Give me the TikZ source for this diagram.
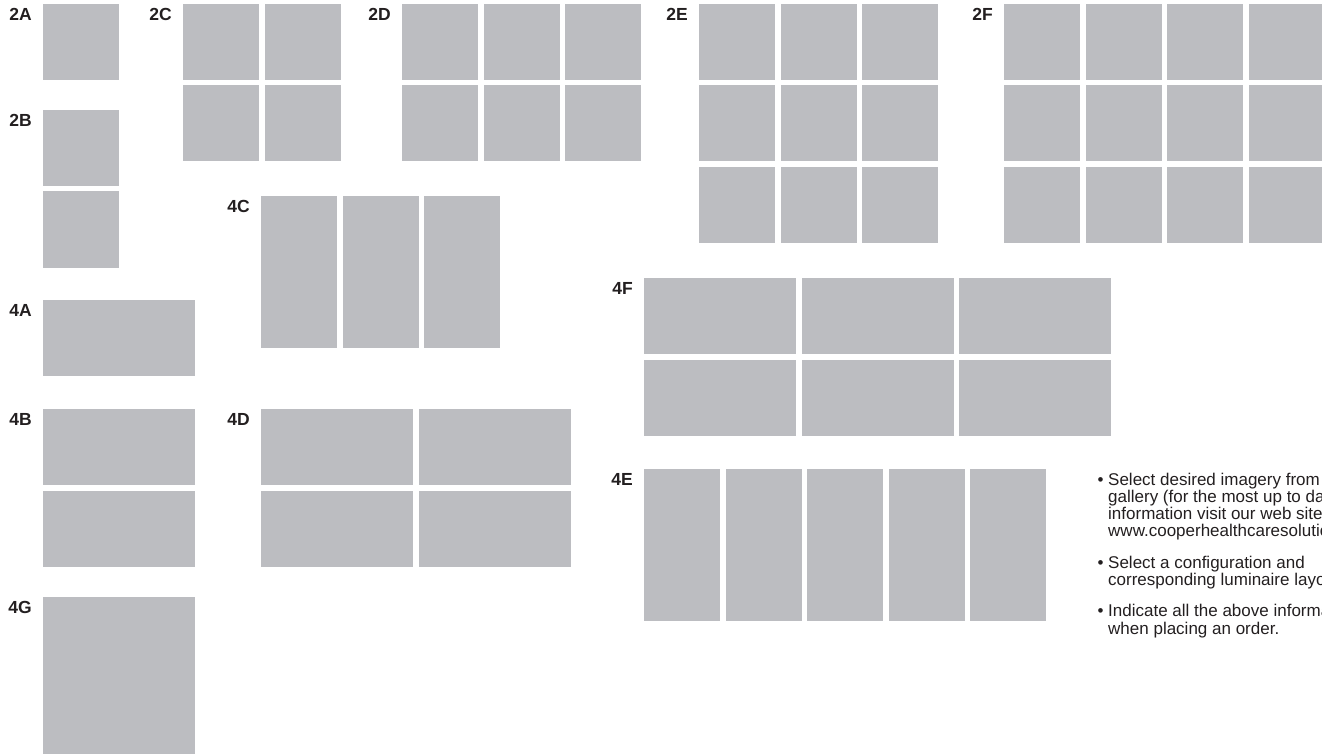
\documentclass[tikz,border=0pt]{standalone}
\usepackage{fontspec}
\setmainfont{Liberation Sans}
\usetikzlibrary{positioning}
\definecolor{panelgray}{HTML}{BCBDC1}
\definecolor{inkgray}{HTML}{231F20}

\begin{document}
\begin{tikzpicture}[x=1pt,y=-1pt,
    panel/.style={fill=panelgray,inner sep=0pt,outer sep=0pt,anchor=north west,
                  minimum width=76pt,minimum height=76pt},
    wide/.style={panel,minimum width=152pt},
    tall/.style={panel,minimum height=152pt},
    tag/.style={font=\bfseries\fontsize{17.5}{17.5}\selectfont,text=inkgray,
                inner sep=0pt,anchor=north east},
    note/.style={font=\fontsize{17}{17.3}\selectfont,text=inkgray,align=left,
                 inner sep=0pt,anchor=north west}
  ]
    \useasboundingbox (0,0) rectangle (1322,754);

    % square panels
    \node[panel] (p2A) at (43,4) {};
    \foreach \r in {1,2}
      \node[panel] (p2B-\r-1) at (43,{110+(\r-1)*81.5}) {};
    \foreach \r in {1,2} \foreach \c in {1,2}
      \node[panel] (p2C-\r-\c) at ({183+(\c-1)*81.5},{4+(\r-1)*81.5}) {};
    \foreach \r in {1,2} \foreach \c in {1,2,3}
      \node[panel] (p2D-\r-\c) at ({402+(\c-1)*81.5},{4+(\r-1)*81.5}) {};
    \foreach \r in {1,2,3} \foreach \c in {1,2,3}
      \node[panel] (p2E-\r-\c) at ({699+(\c-1)*81.5},{4+(\r-1)*81.5}) {};
    \foreach \r in {1,2,3} \foreach \c in {1,...,4}
      \node[panel] (p2F-\r-\c) at ({1004+(\c-1)*81.5},{4+(\r-1)*81.5}) {};

    % tall panels
    \foreach \c in {1,2,3}
      \node[tall] (p4C-1-\c) at ({261+(\c-1)*81.5},196) {};
    \foreach \c in {1,...,5}
      \node[tall] (p4E-1-\c) at ({644+(\c-1)*81.5},469) {};

    % wide panels
    \node[wide] (p4A) at (43,300) {};
    \foreach \r in {1,2}
      \node[wide] (p4B-\r-1) at (43,{409+(\r-1)*81.5}) {};
    \foreach \r in {1,2} \foreach \c in {1,2}
      \node[wide] (p4D-\r-\c) at ({261+(\c-1)*157.5},{409+(\r-1)*81.5}) {};
    \foreach \r in {1,2} \foreach \c in {1,2,3}
      \node[wide] (p4F-\r-\c) at ({644+(\c-1)*157.5},{278+(\r-1)*81.5}) {};
    \node[panel,minimum width=152pt,minimum height=160pt] (p4G) at (43,597) {};

    % labels
    \node[tag] (l2A) at ([xshift=-11pt,yshift=-4pt]p2A.north west) {2A};
    \node[tag] (l2B) at ([xshift=-11pt,yshift=-4pt]p2B-1-1.north west) {2B};
    \node[tag] (l2C) at ([xshift=-11pt,yshift=-4pt]p2C-1-1.north west) {2C};
    \node[tag] (l2D) at ([xshift=-11pt,yshift=-4pt]p2D-1-1.north west) {2D};
    \node[tag] (l2E) at ([xshift=-11pt,yshift=-4pt]p2E-1-1.north west) {2E};
    \node[tag] (l2F) at ([xshift=-11pt,yshift=-4pt]p2F-1-1.north west) {2F};
    \node[tag] (l4A) at ([xshift=-11pt,yshift=-4pt]p4A.north west) {4A};
    \node[tag] (l4B) at ([xshift=-11pt,yshift=-4pt]p4B-1-1.north west) {4B};
    \node[tag] (l4C) at ([xshift=-11pt,yshift=-4pt]p4C-1-1.north west) {4C};
    \node[tag] (l4D) at ([xshift=-11pt,yshift=-4pt]p4D-1-1.north west) {4D};
    \node[tag] (l4E) at ([xshift=-11pt,yshift=-4pt]p4E-1-1.north west) {4E};
    \node[tag] (l4F) at ([xshift=-11pt,yshift=-4pt]p4F-1-1.north west) {4F};
    \node[tag] (l4G) at ([xshift=-11pt,yshift=-4pt]p4G.north west) {4G};

    % ordering notes
    \node[note] (n1) at (1108,472.5) {%
      \llap{\textbullet\ }Select desired imagery from\\
      gallery (for the most up to date\\
      information visit our web site\\
      www.cooperhealthcaresolutions.com};
    \node[note, below=15pt of n1.south west, anchor=north west] (n2) {%
      \llap{\textbullet\ }Select a configuration and\\
      corresponding luminaire layout};
    \node[note, below=15pt of n2.south west, anchor=north west] (n3) {%
      \llap{\textbullet\ }Indicate all the above information\\
      when placing an order.};
  \end{tikzpicture}
\end{document}
